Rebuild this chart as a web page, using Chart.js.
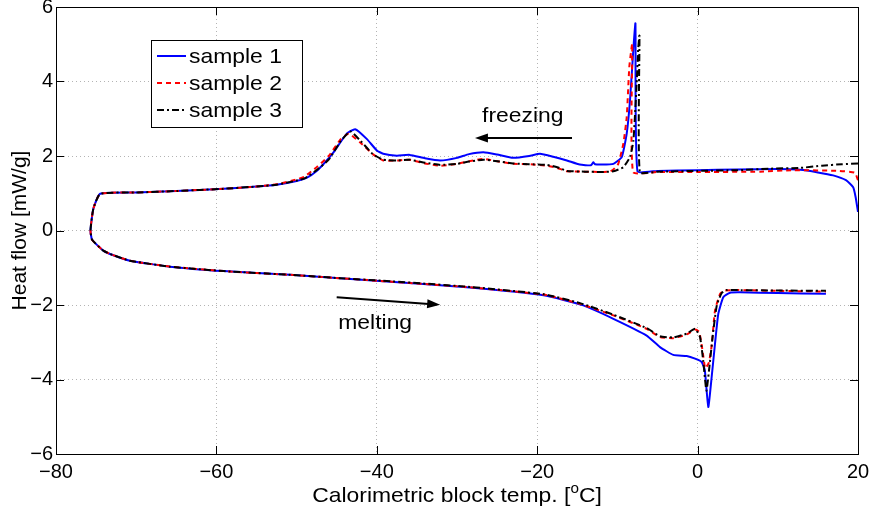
<!DOCTYPE html>
<html>
<head>
<meta charset="utf-8">
<script src="https://cdn.jsdelivr.net/npm/chart.js@4.4.1/dist/chart.umd.min.js"></script>
<style>
  html, body { margin: 0; padding: 0; background: #fff; }
</style>
</head>
<body>
<canvas id="dscChart" width="878" height="515"></canvas>
<script>
// [temp, heat flow] pairs, freezing branch (right -> left) then melting branch (left -> right)
const sample1 = [
    [20, 0.5], [19.7, 0.9], [19.4, 1.16], [18.5, 1.35], [16.9, 1.48], [15, 1.56], [12.8, 1.63],
    [10, 1.65], [5, 1.64], [0, 1.62], [-5, 1.6], [-7.5, 1.59], [-7.75, 5.56], [-8.0, 4.9],
    [-8.43, 3.49], [-8.84, 2.6], [-9.46, 1.97], [-10.5, 1.79], [-12, 1.77], [-12.8, 1.78],
    [-13.0, 1.83], [-13.3, 1.75], [-14.7, 1.77], [-16.3, 1.88], [-18, 1.98], [-19.65, 2.06],
    [-21, 2.0], [-23, 1.95], [-25, 2.04], [-26.7, 2.1], [-28.5, 2.05], [-30, 1.95], [-32.1, 1.88],
    [-34, 1.94], [-35.9, 2.03], [-37.5, 2.01], [-39.2, 2.06], [-40, 2.15], [-41.26, 2.46],
    [-42.7, 2.72], [-43.75, 2.6], [-45.4, 2.1], [-46.5, 1.82], [-47.5, 1.6], [-48.7, 1.42],
    [-50, 1.33], [-52.5, 1.23], [-55, 1.18], [-59.1, 1.12], [-65, 1.06], [-70, 1.02],
    [-74.5, 0.985], [-75.35, 0.58], [-75.7, 0], [-75.5, -0.25], [-74.1, -0.54], [-73.27, -0.63],
    [-70.8, -0.81], [-65.8, -0.97], [-59.1, -1.09], [-50.8, -1.19], [-44.6, -1.28], [-39.2, -1.36],
    [-29.2, -1.52], [-19.2, -1.74], [-14.25, -2.01], [-10.5, -2.37], [-6.35, -2.82], [-4.69, -3.13],
    [-3.03, -3.34], [-1.36, -3.37], [-0.32, -3.44], [0.51, -3.53], [0.9, -3.75], [1.33, -4.74],
    [1.75, -3.94], [2.17, -3.04], [2.58, -2.24], [3.2, -1.79], [4.04, -1.67], [5.3, -1.66],
    [10, -1.68], [16, -1.7]
];
const sample2 = [
    [20, 1.35], [19.6, 1.55], [17.7, 1.6], [12, 1.62], [7.8, 1.58], [0, 1.57], [-5, 1.57],
    [-8.05, 1.57], [-8.15, 5.02], [-8.3, 4.8], [-8.52, 4.38], [-8.84, 3.04], [-9.26, 2.33],
    [-9.89, 1.79], [-10.5, 1.64], [-10.9, 1.59], [-12, 1.57], [-14, 1.58], [-16.3, 1.59],
    [-17.5, 1.68], [-18.8, 1.74], [-21, 1.78], [-23, 1.79], [-25, 1.86], [-26.7, 1.92],
    [-28.5, 1.86], [-30, 1.79], [-32.1, 1.74], [-34, 1.8], [-35.9, 1.9], [-37.5, 1.88],
    [-39.2, 1.88], [-40.5, 2.05], [-42, 2.35], [-43.5, 2.6], [-44.5, 2.45], [-46, 2.0],
    [-47.5, 1.7], [-49, 1.45], [-50, 1.37], [-52.5, 1.24], [-55, 1.18], [-59.1, 1.12],
    [-65, 1.06], [-70, 1.02], [-74.5, 0.985], [-75.35, 0.58], [-75.7, 0], [-75.5, -0.25],
    [-74.1, -0.54], [-73.27, -0.63], [-70.8, -0.81], [-65.8, -0.97], [-59.1, -1.09],
    [-50.8, -1.19], [-44.6, -1.28], [-39.2, -1.36], [-29.2, -1.51], [-19.2, -1.72],
    [-14.66, -1.97], [-10.5, -2.28], [-6.35, -2.64], [-4.69, -2.86], [-3.03, -2.89],
    [-1.36, -2.79], [-0.32, -2.66], [0.2, -2.72], [0.6, -3.2], [0.95, -3.7], [1.4, -3.55],
    [1.75, -3.1], [2.17, -2.15], [2.8, -1.7], [3.4, -1.61], [5, -1.6], [10, -1.62], [16, -1.64]
];
const sample3 = [
    [20, 1.8], [18, 1.78], [15.5, 1.74], [12.8, 1.68], [9, 1.66], [5, 1.62], [0, 1.6], [-5, 1.58],
    [-7.2, 1.56], [-7.25, 5.23], [-7.4, 4.9], [-7.6, 3.94], [-8.0, 2.42], [-8.43, 1.97],
    [-9.26, 1.7], [-10.5, 1.59], [-12, 1.57], [-14, 1.58], [-16.3, 1.6], [-17.5, 1.7],
    [-18.8, 1.76], [-21, 1.78], [-23, 1.8], [-25, 1.86], [-26.7, 1.9], [-28.5, 1.85], [-30, 1.79],
    [-32.1, 1.76], [-34, 1.82], [-35.9, 1.9], [-37.5, 1.88], [-39.2, 1.9], [-40.5, 2.05],
    [-42, 2.4], [-43.3, 2.66], [-44.5, 2.4], [-46, 1.9], [-47.5, 1.62], [-49, 1.4], [-50, 1.34],
    [-52.5, 1.23], [-55, 1.18], [-59.1, 1.12], [-65, 1.06], [-70, 1.02], [-74.5, 0.985],
    [-75.35, 0.58], [-75.7, 0], [-75.5, -0.25], [-74.1, -0.54], [-73.27, -0.63], [-70.8, -0.81],
    [-65.8, -0.97], [-59.1, -1.09], [-50.8, -1.19], [-44.6, -1.28], [-39.2, -1.35],
    [-29.2, -1.5], [-19.2, -1.71], [-14.66, -1.95], [-10.5, -2.26], [-6.35, -2.62],
    [-4.69, -2.84], [-3.03, -2.87], [-1.36, -2.77], [-0.32, -2.64], [0.3, -2.86], [0.7, -3.5],
    [1.1, -4.3], [1.5, -3.6], [1.9, -2.8], [2.4, -2.0], [3.0, -1.68], [3.6, -1.6], [5, -1.6],
    [10, -1.61], [16, -1.62]
];

const seriesNames = ['sample 1', 'sample 2', 'sample 3'];
const xTicks = [-80, -60, -40, -20, 0, 20];
const yTicks = [-6, -4, -2, 0, 2, 4, 6];

const FONT = '"Liberation Sans", Arial, sans-serif';
const STRETCH = 1.09; // the original text renders a bit wider than Liberation Sans
const toPoints = arr => arr.map(p => ({ x: p[0], y: p[1] }));
const minus = v => String(v).replace('-', '\u2212');

// frame, inward ticks, legend, arrows and axis titles (MATLAB look)
const matlabPlugin = {
    id: 'matlabLook',
    afterDatasetsDraw(chart) {
        const { ctx, chartArea: a, scales: { x, y } } = chart;
        ctx.save();

        const wideText = (text, px, py, align) => {
            ctx.save();
            ctx.translate(px, py);
            ctx.scale(STRETCH, 1);
            ctx.textAlign = align;
            ctx.fillText(text, 0, 0);
            ctx.restore();
        };

        // annotations
        const arrow = (x1, y1, x2, y2) => {
            const px1 = x.getPixelForValue(x1), py1 = y.getPixelForValue(y1);
            const px2 = x.getPixelForValue(x2), py2 = y.getPixelForValue(y2);
            const ang = Math.atan2(py2 - py1, px2 - px1);
            ctx.strokeStyle = '#000';
            ctx.fillStyle = '#000';
            ctx.lineWidth = 2;
            ctx.setLineDash([]);
            ctx.beginPath();
            ctx.moveTo(px1, py1);
            ctx.lineTo(px2 - 8 * Math.cos(ang), py2 - 8 * Math.sin(ang));
            ctx.stroke();
            ctx.beginPath();
            ctx.moveTo(px2, py2);
            ctx.lineTo(px2 - 13 * Math.cos(ang) + 4.5 * Math.sin(ang), py2 - 13 * Math.sin(ang) - 4.5 * Math.cos(ang));
            ctx.lineTo(px2 - 13 * Math.cos(ang) - 4.5 * Math.sin(ang), py2 - 13 * Math.sin(ang) + 4.5 * Math.cos(ang));
            ctx.closePath();
            ctx.fill();
        };
        arrow(-15.66, 2.48, -27.76, 2.48);
        arrow(-45.0, -1.79, -32.1, -1.995);

        ctx.font = '21px ' + FONT;
        ctx.textBaseline = 'middle';
        ctx.fillStyle = '#000';
        wideText('freezing', x.getPixelForValue(-21.8), y.getPixelForValue(3.07), 'center');
        wideText('melting', x.getPixelForValue(-40.2), y.getPixelForValue(-2.48), 'center');

        // frame
        ctx.strokeStyle = '#000';
        ctx.lineWidth = 1;
        ctx.strokeRect(Math.round(a.left) + 0.5, Math.round(a.top) + 0.5,
            Math.round(a.right - a.left), Math.round(a.bottom - a.top));

        // inward tick marks on all four sides
        const tl = 8;
        ctx.beginPath();
        xTicks.forEach(v => {
            const px = Math.round(x.getPixelForValue(v)) + 0.5;
            ctx.moveTo(px, a.bottom); ctx.lineTo(px, a.bottom - tl);
            ctx.moveTo(px, a.top); ctx.lineTo(px, a.top + tl);
        });
        yTicks.forEach(v => {
            const py = Math.round(y.getPixelForValue(v)) + 0.5;
            ctx.moveTo(a.left, py); ctx.lineTo(a.left + tl, py);
            ctx.moveTo(a.right, py); ctx.lineTo(a.right - tl, py);
        });
        ctx.stroke();

        // legend
        const lx = a.left + 95, ly = a.top + 33, lw = 151, lh = 87;
        ctx.fillStyle = '#fff';
        ctx.fillRect(lx, ly, lw, lh);
        ctx.strokeRect(lx + 0.5, ly + 0.5, lw, lh);
        ctx.font = '21px ' + FONT;
        chart.data.datasets.forEach((ds, i) => {
            const ry = ly + 16 + i * 27;
            ctx.strokeStyle = ds.borderColor;
            ctx.lineWidth = ds.borderWidth;
            ctx.setLineDash(ds.borderDash || []);
            ctx.beginPath();
            ctx.moveTo(lx + 6, ry);
            ctx.lineTo(lx + 35, ry);
            ctx.stroke();
            ctx.setLineDash([]);
            ctx.fillStyle = '#000';
            wideText(ds.label, lx + 38, ry + 1, 'left');
        });

        // axis titles
        ctx.fillStyle = '#000';
        ctx.textBaseline = 'middle';
        const p1 = 'Calorimetric block temp. [', p3 = 'C]';
        ctx.font = '21px ' + FONT;
        const w1 = ctx.measureText(p1).width, w3 = ctx.measureText(p3).width;
        ctx.font = '14px ' + FONT;
        const w2 = ctx.measureText('o').width;
        ctx.save();
        ctx.translate((a.left + a.right) / 2, 496);
        ctx.scale(STRETCH, 1);
        ctx.textAlign = 'left';
        const sx = -(w1 + w2 + w3) / 2;
        ctx.font = '21px ' + FONT;
        ctx.fillText(p1, sx, 0);
        ctx.font = '14px ' + FONT;
        ctx.fillText('o', sx + w1, -7);
        ctx.font = '21px ' + FONT;
        ctx.fillText(p3, sx + w1 + w2, 0);
        ctx.restore();

        ctx.font = '21px ' + FONT;
        ctx.translate(20, (a.top + a.bottom) / 2);
        ctx.rotate(-Math.PI / 2);
        ctx.textAlign = 'center';
        ctx.fillText('Heat flow [mW/g]', 0, 0);
        ctx.restore();
    }
};

const ctx = document.getElementById('dscChart').getContext('2d');
new Chart(ctx, {
    type: 'scatter',
    data: {
        datasets: [
            {
                label: seriesNames[0], data: toPoints(sample1), showLine: true,
                borderColor: '#0000ff', borderWidth: 2, pointRadius: 0, tension: 0.15, order: 3
            },
            {
                label: seriesNames[1], data: toPoints(sample2), showLine: true,
                borderColor: '#ff0000', borderWidth: 2, borderDash: [5, 4], pointRadius: 0, tension: 0.15, order: 2
            },
            {
                label: seriesNames[2], data: toPoints(sample3), showLine: true,
                borderColor: '#000000', borderWidth: 2, borderDash: [7, 3, 2, 3], pointRadius: 0, tension: 0.15, order: 1
            }
        ]
    },
    options: {
        responsive: false,
        animation: false,
        layout: { padding: { top: 7, right: 20, left: 0, bottom: 0 } },
        plugins: { legend: { display: false }, tooltip: { enabled: false } },
        scales: {
            x: {
                type: 'linear', min: -80, max: 20,
                afterBuildTicks: s => { s.ticks = xTicks.map(v => ({ value: v })); },
                afterFit: s => { s.height = 61; s.paddingLeft = 0; s.paddingRight = 0; },
                grid: { color: '#b4b4b4', lineWidth: 1, drawTicks: false },
                border: { display: false, dash: [1, 3] },
                ticks: { color: '#000', padding: 6, maxRotation: 0, font: { family: FONT, size: 20 }, callback: v => minus(v) }
            },
            y: {
                type: 'linear', min: -6, max: 6,
                afterBuildTicks: s => { s.ticks = yTicks.map(v => ({ value: v })); },
                afterFit: s => { s.width = 56; s.paddingTop = 0; s.paddingBottom = 0; },
                grid: { color: '#b4b4b4', lineWidth: 1, drawTicks: false },
                border: { display: false, dash: [1, 3] },
                ticks: { color: '#000', padding: 3, font: { family: FONT, size: 20 }, callback: v => minus(v) }
            }
        }
    },
    plugins: [matlabPlugin]
});
</script>
</body>
</html>
